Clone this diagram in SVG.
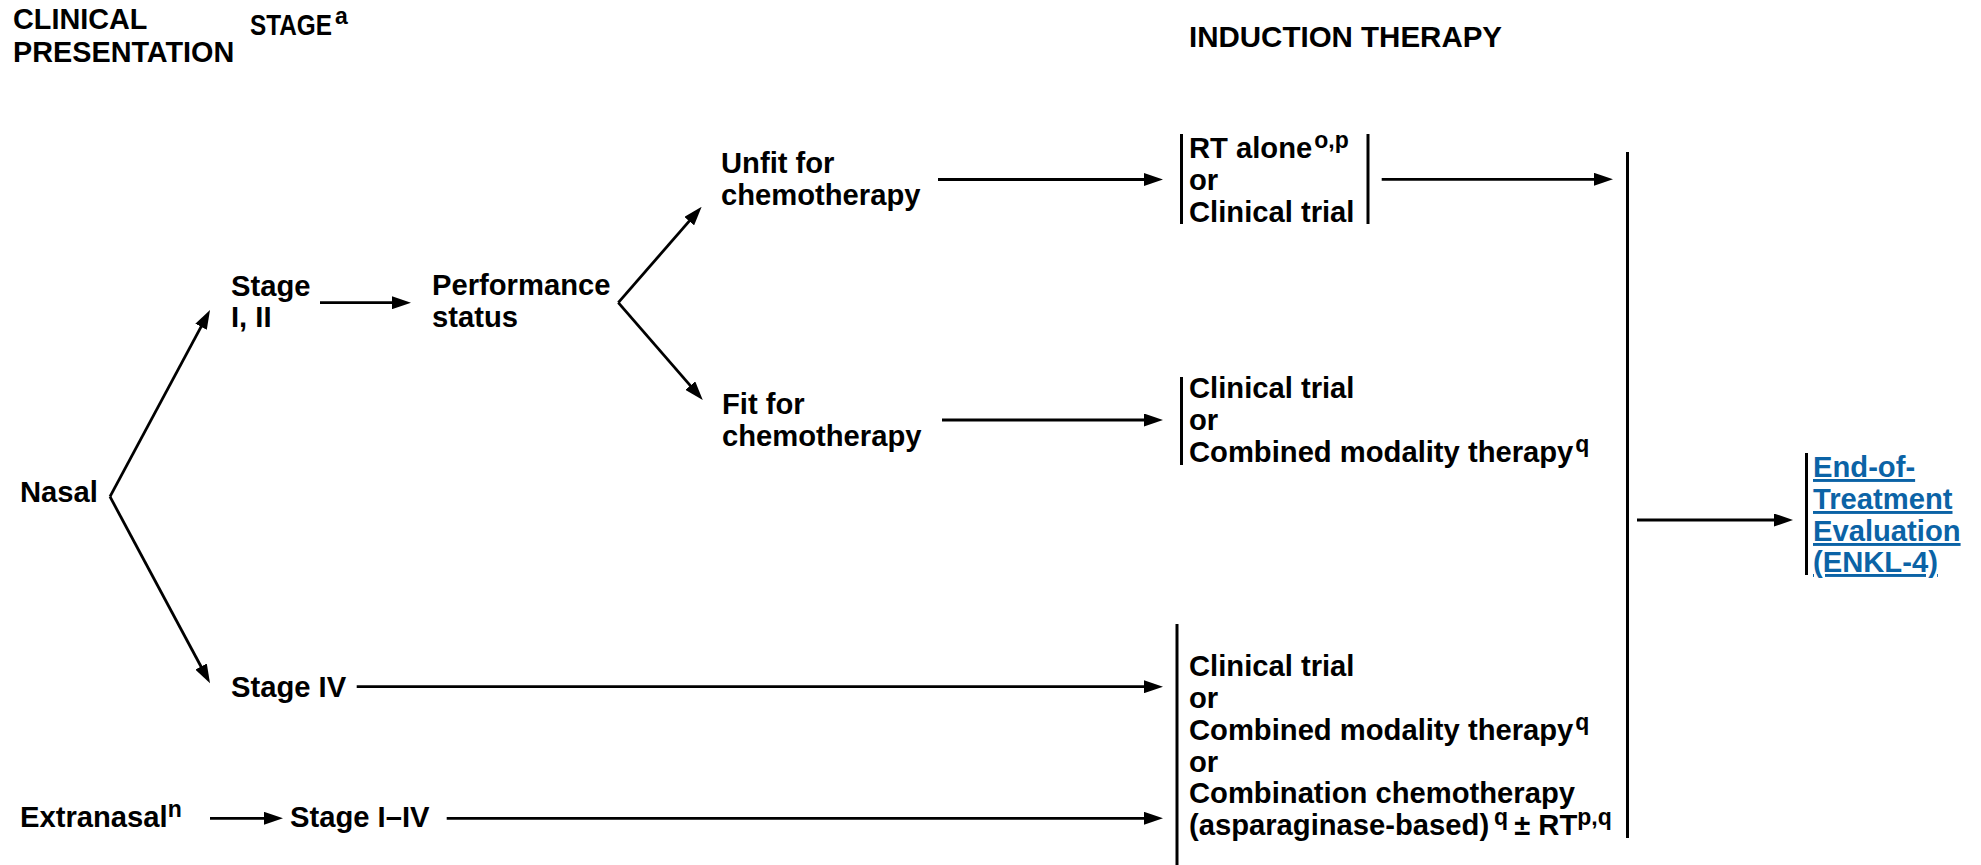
<svg xmlns="http://www.w3.org/2000/svg" width="1981" height="865" viewBox="0 0 1981 865">
<style>
text{font-family:"Liberation Sans",Arial,Helvetica,sans-serif;font-weight:bold;font-size:29.2px;fill:#000}
.hd{font-size:28.8px}
.hd2{font-size:29.5px}
.sup{font-size:23px}
.link{fill:#0b63a6;text-decoration:underline}
.arr{stroke:#000;stroke-width:2.8;fill:none;marker-end:url(#ah)}
.bar{stroke:#000;stroke-width:3;fill:none}
</style>
<defs>
<marker id="ah" viewBox="0 0 19 13" refX="9" refY="6.5" markerWidth="19" markerHeight="13" markerUnits="userSpaceOnUse" orient="auto">
<path d="M0,0 L19,6.5 L0,13 z" fill="#000"/>
</marker>
</defs>
<rect width="1981" height="865" fill="#fff"/>

<g id="headers">
<text class="hd" x="13" y="29">CLINICAL</text>
<text class="hd" x="13" y="62">PRESENTATION</text>
<text x="250" y="35" style="font-size:30px" textLength="82" lengthAdjust="spacingAndGlyphs">STAGE</text>
<text class="sup" x="335" y="24">a</text>
<text class="hd2" x="1189" y="47">INDUCTION THERAPY</text>
</g>

<g id="node-nasal"><text x="20" y="502">Nasal</text></g>
<g id="node-stage12"><text x="231" y="296">Stage</text><text x="231" y="327">I, II</text></g>
<g id="node-performance"><text x="432" y="295">Performance</text><text x="432" y="327">status</text></g>
<g id="node-unfit"><text x="721" y="173">Unfit for</text><text x="721" y="205">chemotherapy</text></g>
<g id="node-fit"><text x="722" y="414">Fit for</text><text x="722" y="446">chemotherapy</text></g>
<g id="node-stage4"><text x="231" y="697">Stage IV</text></g>
<g id="node-extranasal"><text x="20" y="827">Extranasal<tspan class="sup" dy="-10">n</tspan></text></g>
<g id="node-stage1-4"><text x="290" y="827">Stage I–IV</text></g>

<g id="node-induction1">
<line class="bar" x1="1181.5" y1="134" x2="1181.5" y2="224"/>
<line class="bar" x1="1368" y1="134" x2="1368" y2="224"/>
<text x="1189" y="158">RT alone<tspan class="sup" dy="-10" dx="2">o,p</tspan></text>
<text x="1189" y="190">or</text>
<text x="1189" y="222">Clinical trial</text>
</g>

<g id="node-induction2">
<line class="bar" x1="1181.5" y1="377" x2="1181.5" y2="465"/>
<text x="1189" y="398">Clinical trial</text>
<text x="1189" y="430">or</text>
<text x="1189" y="462">Combined modality therapy<tspan class="sup" dy="-10" dx="2">q</tspan></text>
</g>

<g id="node-induction3">
<line class="bar" x1="1177" y1="624" x2="1177" y2="865"/>
<text x="1189" y="676">Clinical trial</text>
<text x="1189" y="708">or</text>
<text x="1189" y="740">Combined modality therapy<tspan class="sup" dy="-10" dx="2">q</tspan></text>
<text x="1189" y="772">or</text>
<text x="1189" y="803">Combination chemotherapy</text>
<text x="1189" y="835">(asparaginase-based)<tspan class="sup" dy="-10" dx="5">q</tspan><tspan dy="10" dx="6">± RT</tspan><tspan class="sup" dy="-10">p,q</tspan></text>
</g>

<g id="node-merge">
<line class="bar" x1="1627.5" y1="152" x2="1627.5" y2="838"/>
</g>

<g id="node-end">
<line class="bar" x1="1806.5" y1="453" x2="1806.5" y2="575"/>
<text class="link" x="1813" y="477">End-of-</text>
<text class="link" x="1813" y="509">Treatment</text>
<text class="link" x="1813" y="541">Evaluation</text>
<text class="link" x="1813" y="572">(ENKL-4)</text>
</g>

<g id="connectors">
<line class="arr" x1="110" y1="496.7" x2="205.3" y2="318.8"/>
<line class="arr" x1="110" y1="496.7" x2="205.3" y2="674.5"/>
<line class="arr" x1="320" y1="302.7" x2="401" y2="302.7"/>
<line class="arr" x1="618.3" y1="302.7" x2="695.1" y2="214.3"/>
<line class="arr" x1="618.3" y1="302.7" x2="696.2" y2="392.4"/>
<line class="arr" x1="938" y1="179.5" x2="1153" y2="179.5"/>
<line class="arr" x1="942" y1="420" x2="1153" y2="420"/>
<line class="arr" x1="356.7" y1="686.7" x2="1153" y2="686.7"/>
<line class="arr" x1="210" y1="818.3" x2="273" y2="818.3"/>
<line class="arr" x1="446.7" y1="818.3" x2="1153" y2="818.3"/>
<line class="arr" x1="1381.7" y1="179.3" x2="1603" y2="179.3"/>
<line class="arr" x1="1637" y1="520" x2="1783" y2="520"/>
</g>
</svg>
